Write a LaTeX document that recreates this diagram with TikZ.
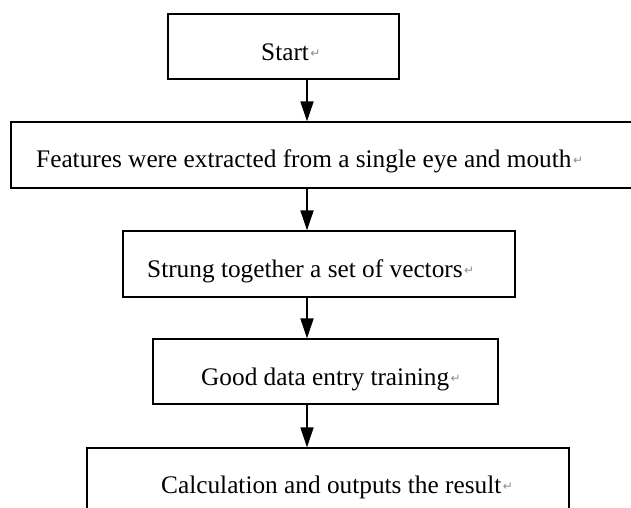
\documentclass[tikz,border=0pt]{standalone}
\usepackage{fontspec}
\setmainfont{Liberation Serif}
\newfontfamily\retfont{DejaVu Sans}
\usetikzlibrary{arrows.meta}
\newcommand{\retmark}{\hspace{1.5pt}{\retfont\fontsize{12}{12}\selectfont\color{black!45}\raisebox{3pt}{↵}}}
\begin{document}
\begin{tikzpicture}[x=1pt,y=-1pt,
  flowbox/.style={draw=black, line width=1.3pt, rectangle, inner sep=0pt},
  flowtext/.style={anchor=base west, inner sep=0pt, font=\fontsize{25.3}{28}\selectfont},
  flowarrow/.style={line width=1.8pt, -{Triangle[length=20pt,width=13pt]}}]
\useasboundingbox (0,0) rectangle (631,508);
\coordinate (ax) at (307,0);
% boxes
\node[flowbox, minimum width=231pt, minimum height=65pt] (start) at (283.5,46.5) {};
\node[flowbox, minimum width=640pt, minimum height=66pt] (feat) at (331,155) {};
\node[flowbox, minimum width=392pt, minimum height=66pt] (strung) at (319,264) {};
\node[flowbox, minimum width=345pt, minimum height=65pt] (good) at (325.5,371.5) {};
\node[flowbox, minimum width=482pt, minimum height=80pt] (calc) at (328,488) {};
% texts
\node[flowtext] (tstart) at (261,61) {Start\retmark};
\node[flowtext] (tfeat) at (36,167) {Features were extracted from a single eye and mouth\retmark};
\node[flowtext] (tstrung) at (147,277) {Strung together a set of vectors\retmark};
\node[flowtext] (tgood) at (201,385) {Good data entry training\retmark};
\node[flowtext] (tcalc) at (161,493) {Calculation and outputs the result\retmark};
% arrows
\draw[flowarrow] (start.south -| ax) -- (feat.north -| ax);
\draw[flowarrow] (feat.south -| ax) -- (strung.north -| ax);
\draw[flowarrow] (strung.south -| ax) -- (good.north -| ax);
\draw[flowarrow] (good.south -| ax) -- (calc.north -| ax);
\end{tikzpicture}
\end{document}
